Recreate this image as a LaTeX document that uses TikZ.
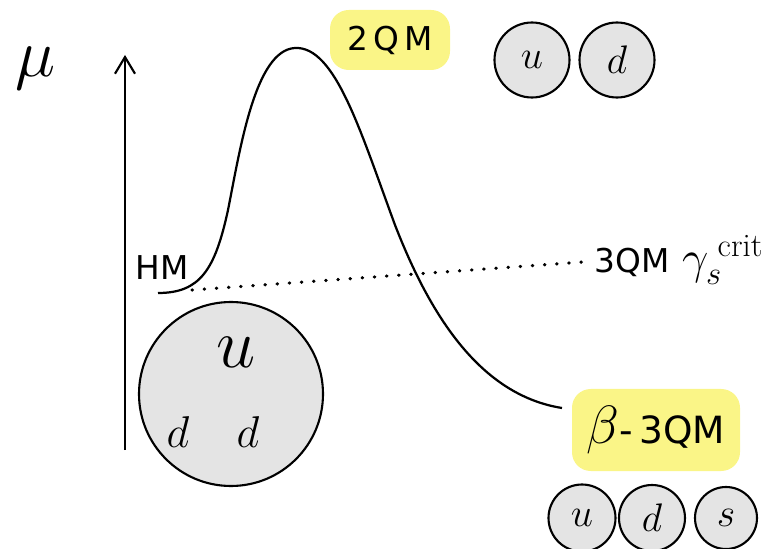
\RequirePackage{fix-cm}
\documentclass[tikz,border=0pt]{standalone}
\usepackage{amsmath}
\usepackage{fontspec}
\setsansfont{DejaVu Sans}
\usepackage{xcolor}
\usepackage{tikz}
\usetikzlibrary{positioning,arrows.meta,calc}

\definecolor{hilite}{RGB}{250,245,135}
\definecolor{quarkfill}{RGB}{228,228,228}

\begin{document}
\begin{tikzpicture}[
  x=0.3mm, y=-0.3mm,
  every node/.style={align=center},
  txt/.style={font=\sffamily\fontsize{28}{30}\selectfont, inner sep=1pt},
  hlbox/.style={fill=hilite, rounded corners=16pt, inner sep=2pt},
  quark/.style={draw, line width=1.8pt, circle, fill=quarkfill, inner sep=0pt,
                font=\fontsize{34}{36}\selectfont},
  arrow/.style={-{Straight Barb[length=5mm,width=6mm,line width=1.8pt]}, line width=2pt},
]
\useasboundingbox (0,0) rectangle (767,549);

% ===== axis =====
\coordinate (ax0) at (125,450);
\coordinate (ax1) at (125,55);
\draw[arrow] (ax0) -- (ax1);
\node (mu) at (36,68) {\fontsize{58}{60}\selectfont$\mu$};

% ===== potential curve =====
\coordinate (hmend) at (158,293);
\coordinate (betaend) at (562,408);
\draw[line width=1.9pt] (hmend)
  .. controls (200,293) and (215,270) .. (228,210)
  .. controls (240,150) and (255,50) .. (295,48)
  .. controls (335,46) and (360,130) .. (395,225)
  .. controls (430,315) and (480,395) .. (betaend);
\node[txt] (hm) at (162,268) {HM};

% ===== highlights =====
\node[hlbox, txt, minimum width=120*0.3mm, minimum height=60*0.3mm] (twoqm) at (390,40)
  {2\,Q\,M};
\node[hlbox, txt, minimum width=168*0.3mm, minimum height=82*0.3mm] (betaqm) at (656,430)
  {{\fontsize{46}{48}\selectfont$\beta$}{\fontsize{32}{34}\selectfont-\,3QM}};

% ===== three quark line =====
\node[txt, anchor=west] (threeqm) at (593,262) {3QM};
\node[anchor=west, inner sep=0pt] (gam) at (682,260)
  {\fontsize{40}{42}\selectfont$\gamma_s^{\;\mathrm{crit}}$};
\coordinate (dotstart) at (192,290);
\draw[line width=2.8pt, line cap=round, dash pattern=on 0.4pt off 10pt]
  (dotstart) -- ([xshift=-3mm]threeqm.west);

% ===== hadron (large) =====
\node[quark, minimum size=184*0.3mm] (hadron) at (231,394) {};
\node[font=\fontsize{60}{62}\selectfont] (hu) at (236,352) {$u$};
\node[font=\fontsize{38}{40}\selectfont] (hd1) at (178,432) {$d$};
\node[font=\fontsize{38}{40}\selectfont] (hd2) at (248,432) {$d$};

% ===== quarks =====
\node[quark, minimum size=75*0.3mm] (u2) at (532,60) {$u$};
\node[quark, minimum size=75*0.3mm] (d2) at (617,60) {$d$};
\node[quark, minimum size=67*0.3mm] (u3) at (582,518) {$u$};
\node[quark, minimum size=66*0.3mm] (d3) at (652,518) {$d$};
\node[quark, minimum size=62*0.3mm] (s3) at (726,518) {$s$};
\end{tikzpicture}
\end{document}
